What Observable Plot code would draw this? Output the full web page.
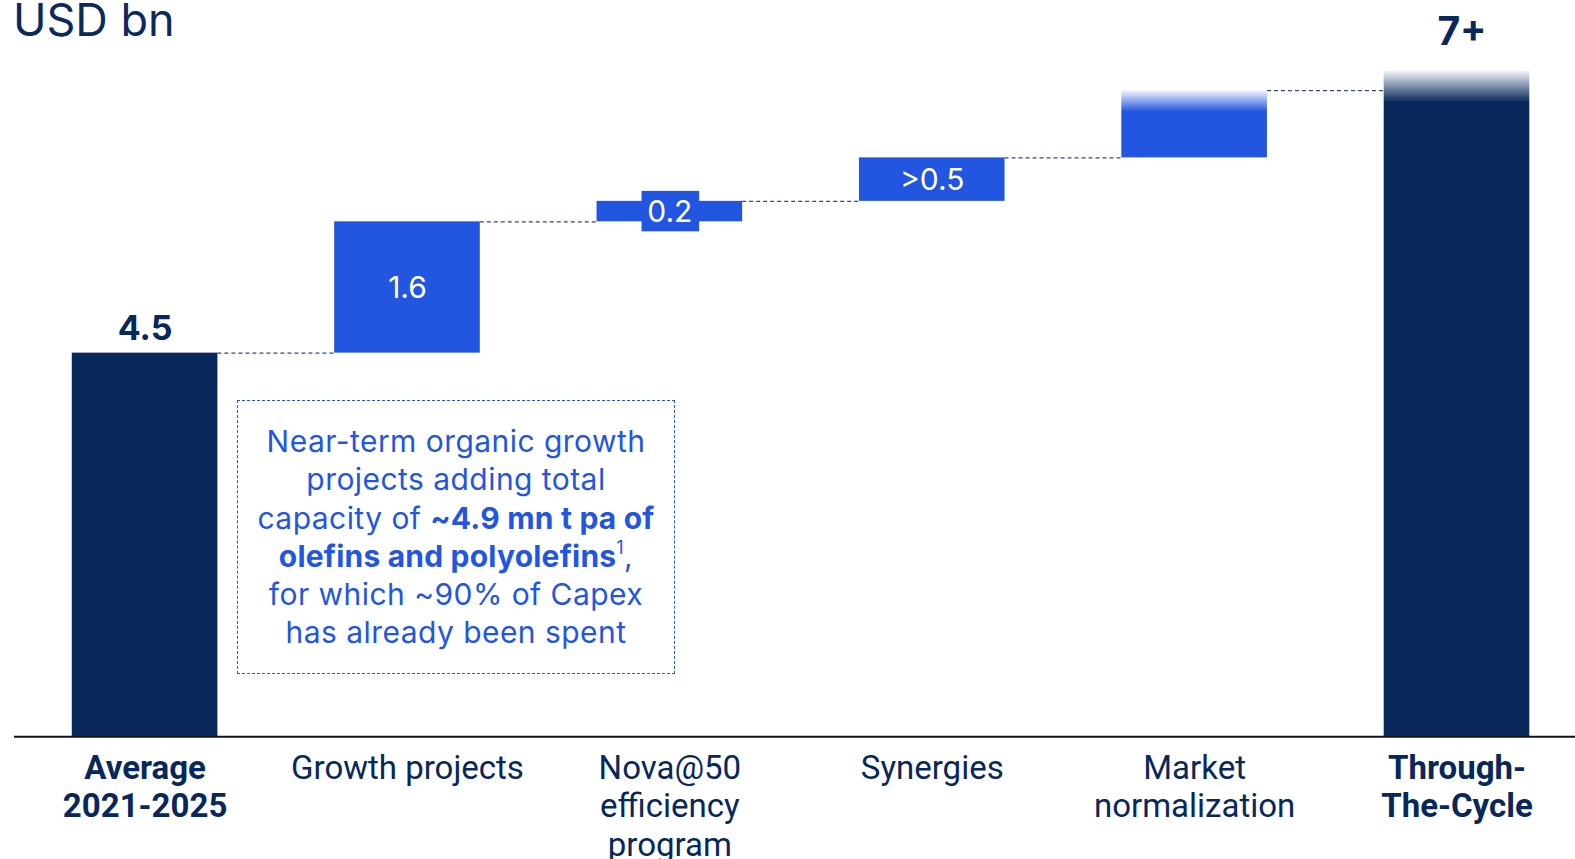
<!DOCTYPE html>
<html>
<head>
<meta charset="utf-8">
<script src="https://cdn.jsdelivr.net/npm/d3@7"></script>
<script src="https://cdn.jsdelivr.net/npm/@observablehq/plot@0.6"></script>
<style>
  html, body { margin: 0; padding: 0; background: #fff; overflow: hidden; }
  #wrap { position: relative; width: 1575px; height: 859px; }
  #title { position: absolute; left: 13px; top: -3px; font-family: Inter, "Noto Sans", sans-serif; font-size: 45px; line-height: 45px; color: #0b2a5c; }
  #note { position: absolute; left: 237px; top: 400px; width: 438px; height: 274px; box-sizing: border-box;
          border: 1.5px dashed #2256E0; padding-top: 21px; text-align: center;
          font-family: Inter, "Noto Sans", sans-serif; font-size: 30px; letter-spacing: 0.45px; line-height: 38.3px; color: #2256E0; }
  #note b { font-weight: 700; letter-spacing: 0.2px; }
  #note sup { font-size: 0.6em; line-height: 0; vertical-align: 0.75em; }
</style>
</head>
<body>
<div id="wrap">
  <div id="chart"></div>
  <div id="title">USD bn</div>
  <div id="note">Near-term organic growth<br>projects adding total<br>capacity of <b>~4.9 mn t pa of</b><br><b>olefins and polyolefins</b><sup>1</sup>,<br>for which ~90% of Capex<br>has already been spent</div>
</div>
<script>
// ---- data ----
const categories = ["Average 2021-2025", "Growth projects", "Nova@50 efficiency program", "Synergies", "Market normalization", "Through-The-Cycle"];
const tickLabels = ["Average\n2021-2025", "Growth projects", "Nova@50\nefficiency\nprogram", "Synergies", "Market\nnormalization", "Through-\nThe-Cycle"];
const startValue = 4.5;
const deltas = [1.54, 0.24, 0.51, 0.79];
const endValue = 7.81;
const valueLabels = ["4.5", "1.6", "0.2", ">0.5", "", "7+"];

// ---- build waterfall rows ----
const rows = [];
rows.push({i: 0, cat: categories[0], y1: 0, y2: startValue, kind: "total", label: valueLabels[0]});
let acc = startValue;
deltas.forEach((d, k) => {
  rows.push({i: k + 1, cat: categories[k + 1], y1: acc, y2: acc + d, kind: "delta", label: valueLabels[k + 1]});
  acc += d;
});
rows.push({i: 5, cat: categories[5], y1: 0, y2: endValue, kind: "total", label: valueLabels[5]});
const connectors = rows.slice(0, 5).map(r => ({i: r.i, v: r.y2}));
const ticks = tickLabels.map((t, i) => ({i, t, bold: i === 0 || i === 5}));

const NAVY = "#08275a";
const BLUE = "#2256E0";
const hw = 0.2775;

const chart = Plot.plot({
  width: 1575,
  height: 859,
  marginTop: 0,
  marginBottom: 122.7,
  marginLeft: 14,
  marginRight: 0,
  x: {domain: [-0.5, 5.5], range: [13.4, 1587.7], axis: null},
  y: {domain: [0, 736.3 / 85.26], axis: null},
  style: {fontFamily: "Roboto, sans-serif", background: "white"},
  marks: [
    Plot.ruleY(connectors, {y: "v", x1: d => d.i + hw, x2: d => d.i + 1 - hw, stroke: "#34497a", strokeWidth: 1.2, strokeDasharray: "4,3"}),
    Plot.rect(rows.filter(r => r.i === 0), {x1: d => d.i - hw, x2: d => d.i + hw, y1: "y1", y2: "y2", fill: NAVY}),
    Plot.rect(rows.filter(r => r.i >= 1 && r.i <= 3), {x1: d => d.i - hw, x2: d => d.i + hw, y1: "y1", y2: "y2", fill: BLUE}),
    Plot.rect(rows.filter(r => r.i === 2), {x1: d => d.i - hw, x2: d => d.i + hw, y1: "y1", y2: "y2", fill: BLUE, insetLeft: 45, insetRight: 43, insetTop: -10, insetBottom: -10}),
    Plot.rect(rows.filter(r => r.i === 4), {x1: d => d.i - hw, x2: d => d.i + hw, y1: "y1", y2: "y2", fill: "url(#fadeBlue)"}),
    Plot.rect(rows.filter(r => r.i === 5), {x1: d => d.i - hw, x2: d => d.i + hw, y1: "y1", y2: "y2", fill: "url(#fadeNavy)"}),
    Plot.ruleY([0], {stroke: "#111", strokeWidth: 2}),
    // delta labels (white, centered)
    Plot.text(rows.filter(r => r.kind === "delta" && r.label), {x: "i", y: d => (d.y1 + d.y2) / 2, text: "label", fill: "white", fontSize: 30, fontFamily: "Inter, sans-serif", dy: 1}),
    // total labels
    Plot.text(rows.filter(r => r.i === 0), {x: "i", y: "y2", text: "label", fill: NAVY, fontSize: 34, fontWeight: 700, fontFamily: "Inter, sans-serif", lineAnchor: "bottom", dy: -13}),
    Plot.text(rows.filter(r => r.i === 5), {x: "i", y: "y2", text: "label", fill: NAVY, fontSize: 39, fontWeight: 700, fontFamily: "Inter, sans-serif", lineAnchor: "bottom", dy: -26, dx: 5}),
    // category labels
    Plot.text(ticks.filter(t => !t.bold), {x: "i", y: () => 0, text: "t", fill: NAVY, fontSize: 33, lineHeight: 1.16, lineAnchor: "top", dy: 15}),
    Plot.text(ticks.filter(t => t.bold), {x: "i", y: () => 0, text: "t", fill: NAVY, fontSize: 33, fontWeight: 700, lineHeight: 1.16, lineAnchor: "top", dy: 15})
  ]
});

const ns = "http://www.w3.org/2000/svg";
const defs = document.createElementNS(ns, "defs");
function grad(id, color, fadeEnd) {
  const g = document.createElementNS(ns, "linearGradient");
  g.setAttribute("id", id);
  g.setAttribute("x1", "0"); g.setAttribute("y1", "0");
  g.setAttribute("x2", "0"); g.setAttribute("y2", "1");
  [[0, 0.04], [fadeEnd, 1], [1, 1]].forEach(([o, op]) => {
    const s = document.createElementNS(ns, "stop");
    s.setAttribute("offset", o);
    s.setAttribute("stop-color", color);
    s.setAttribute("stop-opacity", op);
    g.appendChild(s);
  });
  defs.appendChild(g);
}
grad("fadeBlue", BLUE, 0.32);
grad("fadeNavy", NAVY, 0.048);
chart.insertBefore(defs, chart.firstChild);
document.getElementById("chart").appendChild(chart);
</script>
</body>
</html>
